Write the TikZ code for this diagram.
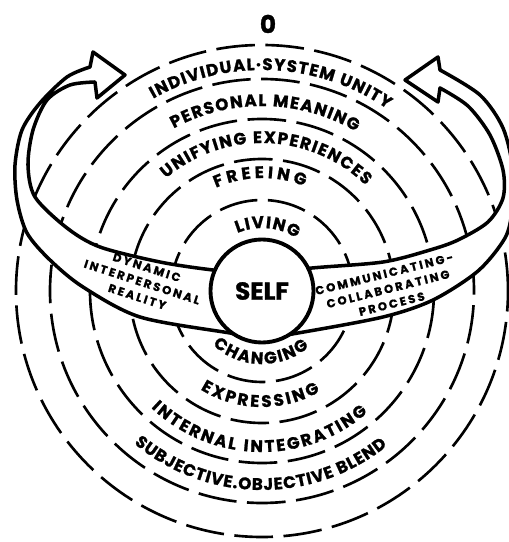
\documentclass[tikz,border=0pt]{standalone}
\usepackage{fontspec}
\usetikzlibrary{decorations.text}
\newfontfamily\ringfont{Poppins}[BoldFeatures={FakeBold=1.2}]
\newfontfamily\bandfont{Poppins}[LetterSpace=20, BoldFeatures={FakeBold=1.2}]

\begin{document}
\begin{tikzpicture}[x=0.2mm, y=0.2mm,
    ringline/.style={line width=1.5pt, dash pattern=on 22pt off 6pt},
    ribbon/.style={draw, fill=white, line width=2pt, line join=round},
    ringtext/.style={decorate, decoration={text along path, text align={fit to path},
        text={|\ringfont\bfseries\fontsize{9.5}{11}\selectfont|#1}}},
    bandtext/.style={font=\bandfont\bfseries\fontsize{6.6}{8.8}\selectfont, align=center, inner sep=0pt}]
  \useasboundingbox (-262,-251) rectangle (247,291);

  % dashed rings round the self
  \foreach \r in {91,132,172,212,246}
    \draw[ringline] (0,0) circle[radius=\r];

  % the ribbon with its two arrow ends (picture pixels, y down)
  \begin{scope}[shift={(-262,291)}, yscale=-1]
    \filldraw[ribbon] (90,67) -- (93,52) -- (125,75) -- (97,98) -- (95,82)
      -- plot[smooth] coordinates {(95,82) (70,85) (47,100) (33,130) (28,165)
           (35,197) (67,228) (100,247) (160,262) (213,270) (262,274) (312,268)
           (383,262) (430,250) (458,240) (488,222) (503,198) (503,170)
           (490,135) (468,106) (440,88)}
      -- (438,102) -- (405,80) -- (438,57) -- (440,70)
      -- plot[smooth] coordinates {(440,70) (480,95) (503,128) (513,170)
           (512,210) (505,238) (478,271) (433,300) (383,317) (298,333)
           (262,338) (230,333) (140,317) (83,287) (50,260) (27,233)
           (17,200) (15,165) (22,130) (40,103) (67,77) (90,67)}
      -- cycle;
  \end{scope}

  \node[draw, circle, fill=white, line width=2.2pt, minimum size=20.6mm, inner sep=0pt,
    font=\ringfont\bfseries\fontsize{14}{16}\selectfont] (self) at (0,0) {SELF};
  \node[font=\ringfont\bfseries\fontsize{14}{16}\selectfont] (zero) at (6,267) {0};

  % labels on the ribbon
  \node[bandtext, rotate=-18] (dynamic) at (-120,9) {DYNAMIC\\INTERPERSONAL\\REALITY};
  \node[bandtext, rotate=14] (process) at (126,2) {COMMUNICATING-\\COLLABORATING\\PROCESS};

  % upper rings
  \path[ringtext={LIVING}] (113:63) arc[start angle=113, end angle=57, radius=63];
  \path[ringtext={FREEING}] (114:113) arc[start angle=114, end angle=68, radius=113];
  \path[ringtext={UNIFYING EXPERIENCES}] (130.5:148) arc[start angle=130.5, end angle=45.5, radius=148];
  \path[ringtext={PERSONAL MEANING}] (118.5:185) arc[start angle=118.5, end angle=59.5, radius=185];
  \path[ringtext={INDIVIDUAL·SYSTEM UNITY}] (119.5:221) arc[start angle=119.5, end angle=55.5, radius=221];

  % lower rings
  \path[ringtext={CHANGING}] (227.5:73) arc[start angle=227.5, end angle=310, radius=73];
  \path[ringtext={EXPRESSING}] (238:116) arc[start angle=238, end angle=300, radius=116];
  \path[ringtext={INTERNAL INTEGRATING}] (226.5:161) arc[start angle=226.5, end angle=311, radius=161];
  \path[ringtext={SUBJECTIVE.OBJECTIVE BLEND}] (230:199) arc[start angle=230, end angle=309, radius=199];
\end{tikzpicture}
\end{document}
